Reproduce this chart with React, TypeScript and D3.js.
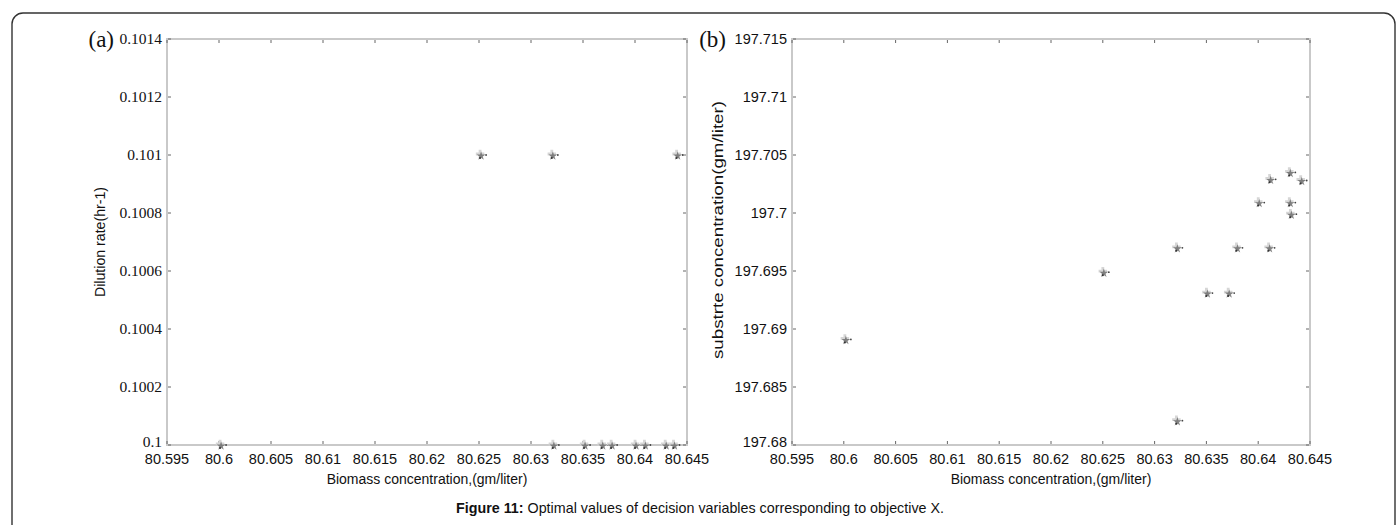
import React from "react";
import * as d3 from "d3";

// ---- data ----
const xTicks = [80.595, 80.6, 80.605, 80.61, 80.615, 80.62, 80.625, 80.63, 80.635, 80.64, 80.645];
const xTickLabels = ["80.595", "80.6", "80.605", "80.61", "80.615", "80.62", "80.625", "80.63", "80.635", "80.64", "80.645"];
const dilutionTicks = [0.1, 0.1002, 0.1004, 0.1006, 0.1008, 0.101, 0.1012, 0.1014];
const dilutionTickLabels = ["0.1", "0.1002", "0.1004", "0.1006", "0.1008", "0.101", "0.1012", "0.1014"];
const substrateTicks = [197.68, 197.685, 197.69, 197.695, 197.7, 197.705, 197.71, 197.715];
const substrateTickLabels = ["197.68", "197.685", "197.69", "197.695", "197.7", "197.705", "197.71", "197.715"];

// panel (a): biomass vs dilution rate
const biomassA = [80.6252, 80.6321, 80.6441, 80.6002, 80.6322, 80.6352, 80.6369, 80.6378, 80.6401, 80.641, 80.643, 80.6438];
const dilutionA = [0.101, 0.101, 0.101, 0.1, 0.1, 0.1, 0.1, 0.1, 0.1, 0.1, 0.1, 0.1];

// panel (b): biomass vs substrate concentration
const biomassB = [80.6002, 80.6251, 80.6322, 80.6322, 80.6351, 80.6372, 80.638, 80.6401, 80.6411, 80.6412, 80.6431, 80.6442, 80.6431, 80.6432];
const substrateB = [197.6891, 197.6949, 197.697, 197.6821, 197.6931, 197.6931, 197.697, 197.7009, 197.697, 197.7029, 197.7035, 197.7028, 197.7009, 197.6999];

const W = 1397;
const H = 525;
const TOP = 39;
const BOTTOM = 445;

const starPath = d3.symbol(d3.symbolStar, 24)() as string;
const crossPath = d3.symbol(d3.symbolCross, 40)() as string;

function Marker({ x, y }: { x: number; y: number }) {
  return (
    <g transform={`translate(${x},${y})`}>
      <path d={crossPath} fill="#d6d6d6" transform="translate(-1,-1)" />
      <path d={starPath} fill="#666" opacity={0.8} transform="translate(0,1)" />
      <circle cx={-1} cy={3} r={1} fill="#333" />
      <circle cx={5} cy={0} r={0.9} fill="#444" />
    </g>
  );
}

function Panel(props: {
  x0: number;
  x1: number;
  yTicks: number[];
  yLabels: string[];
  xs: number[];
  ys: number[];
  yTitle: string;
  yTitleX: number;
  yTitleY: number;
  yTitleLen: number;
  letter: string;
  letterEnd: number;
  serifY: boolean;
}) {
  const { x0, x1, yTicks, yLabels, xs, ys, yTitle, yTitleX, yTitleY, yTitleLen, letter, letterEnd, serifY } = props;
  const xScale = d3.scaleLinear().domain([80.595, 80.645]).range([x0, x1]);
  const yScale = d3
    .scaleLinear()
    .domain([yTicks[0], yTicks[yTicks.length - 1]])
    .range([BOTTOM, TOP]);
  const axisColor = "#c9c9c9";
  const tickColor = "#666";
  const yFont = serifY ? "'Liberation Serif', 'Times New Roman', serif" : "'Liberation Sans', Arial, sans-serif";
  const midX = (x0 + x1) / 2;
  return (
    <g>
      <rect x={x0} y={TOP} width={x1 - x0} height={BOTTOM - TOP} fill="none" stroke={axisColor} strokeWidth={2} />
      {xTicks.map((t, i) => (
        <g key={"xt" + i}>
          <line x1={xScale(t)} x2={xScale(t)} y1={TOP + 1} y2={TOP + 4} stroke={tickColor} strokeWidth={1} />
          <line x1={xScale(t)} x2={xScale(t)} y1={BOTTOM - 1} y2={BOTTOM - 4} stroke={tickColor} strokeWidth={1} />
          <text
            x={xScale(t)}
            y={BOTTOM + 19}
            textAnchor="middle"
            fontFamily="'Liberation Sans', Arial, sans-serif"
            fontSize={14.5}
            fill="#111"
          >
            {xTickLabels[i]}
          </text>
        </g>
      ))}
      {yTicks.map((t, i) => (
        <g key={"yt" + i}>
          <line x1={x0 + 1} x2={x0 + 4} y1={yScale(t)} y2={yScale(t)} stroke={tickColor} strokeWidth={1} />
          <line x1={x1 - 1} x2={x1 - 4} y1={yScale(t)} y2={yScale(t)} stroke={tickColor} strokeWidth={1} />
          <text
            x={x0 - 5}
            y={yScale(t) + (i === 0 ? 2 : 5)}
            textAnchor="end"
            fontFamily={yFont}
            fontSize={serifY ? 15.5 : 14.5}
            fill="#111"
          >
            {yLabels[i]}
          </text>
        </g>
      ))}
      <text
        x={letterEnd}
        y={TOP + 8}
        textAnchor="end"
        fontFamily="'Liberation Serif', 'Times New Roman', serif"
        fontSize={23}
        fill="#111"
      >
        {letter}
      </text>
      <text
        x={midX}
        y={BOTTOM + 39}
        textAnchor="middle"
        fontFamily="'Liberation Sans', Arial, sans-serif"
        fontSize={14}
        fill="#111"
      >
        Biomass concentration,(gm/liter)
      </text>
      <text
        transform={`translate(${yTitleX},${yTitleY}) rotate(-90)`}
        textAnchor="middle"
        fontFamily="'Liberation Sans', Arial, sans-serif"
        fontSize={14}
        textLength={yTitleLen}
        lengthAdjust="spacingAndGlyphs"
        fill="#111"
      >
        {yTitle}
      </text>
      {xs.map((v, i) => (
        <Marker key={"p" + i} x={xScale(v)} y={yScale(ys[i])} />
      ))}
    </g>
  );
}

export default function App() {
  return (
    <svg width={W} height={H} style={{ position: "absolute", left: 0, top: 0, background: "#fff" }}>
      <rect x={0} y={0} width={W} height={H} fill="#fff" />
      <rect x={12} y={13} width={1383} height={560} rx={11} ry={11} fill="none" stroke="#333" strokeWidth={1.4} />
      <Panel
        x0={167}
        x1={687}
        yTicks={dilutionTicks}
        yLabels={dilutionTickLabels}
        xs={biomassA}
        ys={dilutionA}
        yTitle="Dilution rate(hr-1)"
        yTitleX={105}
        yTitleY={242}
        yTitleLen={110}
        letter="(a)"
        letterEnd={114}
        serifY={true}
      />
      <Panel
        x0={792}
        x1={1310}
        yTicks={substrateTicks}
        yLabels={substrateTickLabels}
        xs={biomassB}
        ys={substrateB}
        yTitle="substrte concentration(gm/liter)"
        yTitleX={723}
        yTitleY={230}
        yTitleLen={258}
        letter="(b)"
        letterEnd={726}
        serifY={false}
      />
      <text
        x={700}
        y={513}
        textAnchor="middle"
        fontFamily="'Liberation Sans', Arial, sans-serif"
        fontSize={14.3}
        fill="#111"
      >
        <tspan fontWeight="bold">Figure 11:</tspan>
        <tspan> Optimal values of decision variables corresponding to objective X.</tspan>
      </text>
    </svg>
  );
}
